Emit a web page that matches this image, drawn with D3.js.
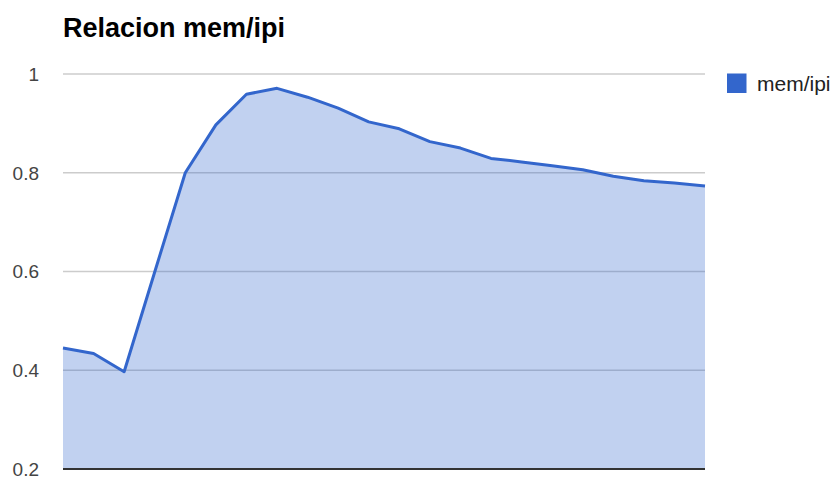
<!DOCTYPE html>
<html>
<head>
<meta charset="utf-8">
<script src="https://cdn.jsdelivr.net/npm/d3@7"></script>
<style>
  body { margin: 0; background: #fff; }
  text { font-family: Arial, "Liberation Sans", sans-serif; }
</style>
</head>
<body>
<div id="chart"></div>
<script>
// data
var steps = d3.range(1, 23);
var memIpi = [0.445, 0.434, 0.397, 0.599, 0.800, 0.897, 0.959, 0.971, 0.953, 0.931,
              0.903, 0.889, 0.863, 0.850, 0.829, 0.822, 0.814, 0.806, 0.793, 0.784,
              0.779, 0.773];
var yTicks = [0.2, 0.4, 0.6, 0.8, 1];
var seriesName = "mem/ipi";
var chartTitle = "Relacion mem/ipi";

var width = 835, height = 480;
var plot = {left: 63, right: 705, top: 74, bottom: 469};

var x = d3.scalePoint().domain(steps).range([plot.left, plot.right]);
var y = d3.scaleLinear().domain([0.2, 1]).range([plot.bottom, plot.top]);

var svg = d3.select("#chart").append("svg")
    .attr("width", width)
    .attr("height", height);

// title
svg.append("text")
    .attr("x", 63)
    .attr("y", 37)
    .style("font-size", "27px")
    .style("font-weight", "bold")
    .style("fill", "#000")
    .text(chartTitle);

// gridlines
svg.append("g").selectAll("line")
    .data(yTicks.slice(1))
    .enter().append("line")
    .attr("x1", plot.left)
    .attr("x2", plot.right)
    .attr("y1", function(d) { return y(d); })
    .attr("y2", function(d) { return y(d); })
    .attr("stroke", "#cccccc")
    .attr("stroke-width", 1.5);

// y labels
svg.append("g").selectAll("text")
    .data(yTicks)
    .enter().append("text")
    .attr("x", 39)
    .attr("y", function(d) { return y(d); })
    .attr("dy", "0.36em")
    .attr("text-anchor", "end")
    .style("font-size", "19px")
    .style("fill", "#444")
    .text(function(d) { return d3.format("")(d); });

// area
var area = d3.area()
    .x(function(d, i) { return x(steps[i]); })
    .y0(y(0.2))
    .y1(function(d) { return y(d); });

svg.append("path")
    .datum(memIpi)
    .attr("fill", "#3366cc")
    .attr("fill-opacity", 0.3)
    .attr("d", area);

// baseline
svg.append("line")
    .attr("x1", plot.left)
    .attr("x2", plot.right)
    .attr("y1", y(0.2))
    .attr("y2", y(0.2))
    .attr("stroke", "#333")
    .attr("stroke-width", 2);

// line
var line = d3.line()
    .x(function(d, i) { return x(steps[i]); })
    .y(function(d) { return y(d); });

svg.append("path")
    .datum(memIpi)
    .attr("fill", "none")
    .attr("stroke", "#3366cc")
    .attr("stroke-width", 3)
    .attr("stroke-linejoin", "round")
    .attr("d", line);

// legend
svg.append("rect")
    .attr("x", 727)
    .attr("y", 73.5)
    .attr("width", 19.5)
    .attr("height", 19.5)
    .attr("fill", "#3366cc");

svg.append("text")
    .attr("x", 757)
    .attr("y", 83)
    .attr("dy", "0.36em")
    .style("font-size", "21px")
    .style("fill", "#222")
    .text(seriesName);
</script>
</body>
</html>
